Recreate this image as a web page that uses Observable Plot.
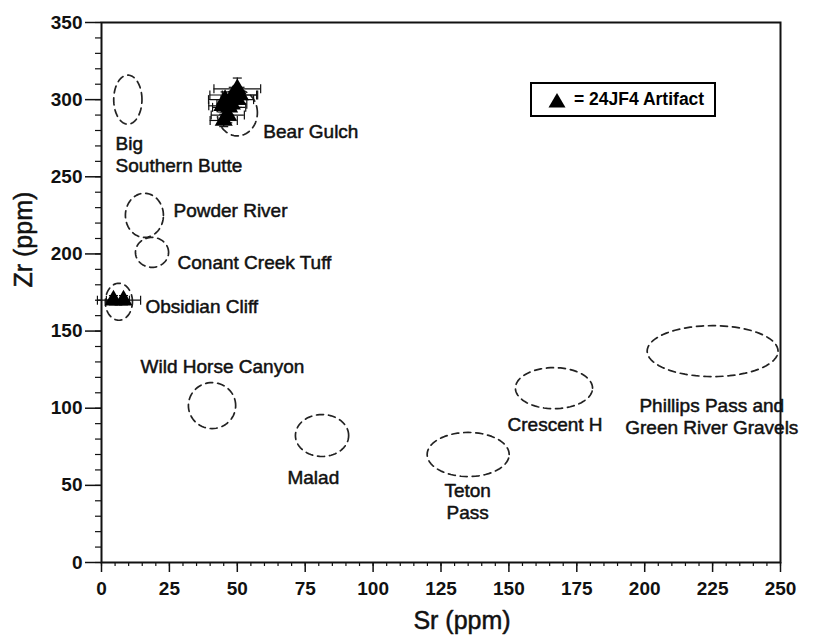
<!DOCTYPE html>
<html><head><meta charset="utf-8">
<script src="https://cdn.jsdelivr.net/npm/d3@7"></script>
<script src="https://cdn.jsdelivr.net/npm/@observablehq/plot@0.6"></script>
<style>
body{margin:0;background:#fff;font-family:"Liberation Sans",Arial,sans-serif;}
#wrap{position:relative;width:830px;height:642px;overflow:hidden;}
#legend{position:absolute;left:530px;top:82px;width:182px;height:31px;border:2.5px solid #000;background:#fff;display:flex;align-items:center;font-size:17.5px;font-weight:bold;color:#000;}
#legend svg{margin-left:16px;margin-right:8px;}
</style></head><body><div id="wrap"><div id="legend"><svg width="18" height="16"><polygon points="9,1 17.5,15.5 0.5,15.5" fill="#000"/></svg><span>= 24JF4 Artifact</span></div></div>
<script>
// Source ellipses (Sr, Zr in ppm)
const sources   = ["Big Southern Butte","Bear Gulch","Powder River","Conant Creek Tuff","Obsidian Cliff","Wild Horse Canyon","Malad","Teton Pass","Crescent H","Phillips Pass"];
const srCenter  = [9.7, 50, 15.8, 18.6, 6.4, 40.7, 81.2, 135, 166.6, 225];
const zrCenter  = [300, 291.5, 225, 201, 169, 101.7, 82.3, 70, 113, 137];
const srRadius  = [5.2, 7.4, 7, 6.1, 5, 8.7, 9.8, 15.1, 14.2, 24.1];
const zrRadius  = [15.9, 15, 14.3, 9.7, 12, 14.9, 13.6, 14.3, 13.3, 16.5];

// Artifact 24JF4 measurements
const artSr    = [50, 48.5, 45.5, 47, 46.5, 45, 50, 44.5, 51, 48, 4.4, 8.1];
const artZr    = [307, 303, 300, 295, 290, 286.5, 300, 296, 303, 297, 170, 170];
const artSrErr = [8.6, 8.6, 6.1, 6.1, 6.1, 5, 6, 5, 6.5, 5.5, 5.9, 6.3];
const artZrErr = [7, 5, 5, 5, 5, 4, 5, 4, 5, 4, 3, 3];

// Labels
const labelText  = ["Big\nSouthern Butte","Bear Gulch","Powder River","Conant Creek Tuff","Obsidian Cliff","Wild Horse Canyon","Malad","Teton\nPass","Crescent H","Phillips Pass and\nGreen River Gravels"];
const labelSr    = [5.2, 59.6, 26.5, 28, 16.2, 14.4, 78, 134.8, 149.5, 224.7];
const labelZr    = [264.7, 280, 228.8, 194.6, 166.6, 127.7, 55.7, 40, 90, 95];
const labelAlign = ["start","start","start","start","start","start","middle","middle","start","middle"];

// Axis ticks
const xMajor = [0,25,50,75,100,125,150,175,200,225,250];
const yMajor = [0,50,100,150,200,250,300,350];
const xMinor = d3.range(0, 251, 5);
const yMinor = d3.range(0, 351, 10);

const ellipsePts = [];
sources.forEach((s, i) => {
  const n = 72;
  for (let k = 0; k <= n; k++) {
    const t = 2 * Math.PI * k / n;
    ellipsePts.push({name: s, sr: srCenter[i] + srRadius[i] * Math.cos(t), zr: zrCenter[i] + zrRadius[i] * Math.sin(t)});
  }
});
const arts = artSr.map((v, i) => ({sr: v, zr: artZr[i], se: artSrErr[i], ze: artZrErr[i]}));
const labels = labelText.map((t, i) => ({t, sr: labelSr[i], zr: labelZr[i], a: labelAlign[i]}));

const vCap = {draw(ctx){ctx.moveTo(0,-4.5);ctx.lineTo(0,4.5);}};
const hCap = {draw(ctx){ctx.moveTo(-4.5,0);ctx.lineTo(4.5,0);}};
const ink = "#111";
const fontFamily = "Liberation Sans, Arial, sans-serif";
const txt = {fill: ink, stroke: ink, strokeWidth: 0.5};

const chart = Plot.plot({
  width: 830, height: 642,
  marginLeft: 101, marginRight: 50, marginTop: 22, marginBottom: 80,
  style: {fontFamily, color: ink, background: "#fff"},
  x: {domain: [0, 250]},
  y: {domain: [0, 350]},
  marks: [
    Plot.axisX(xMinor, {tickSize: 4, tickFormat: () => "", label: null, strokeWidth: 1.2}),
    Plot.axisY(yMinor, {tickSize: 6, tickFormat: () => "", label: null, strokeWidth: 1.2}),
    Plot.axisX(xMajor, {tickSize: 10, tickPadding: 9, fontSize: 19, fontWeight: "bold", label: null, strokeWidth: 1.5}),
    Plot.axisY(yMajor, {tickSize: 16, tickPadding: 3, fontSize: 19, fontWeight: "bold", label: null, strokeWidth: 1.5}),
    Plot.frame({stroke: ink, strokeWidth: 2}),
    Plot.line(ellipsePts, {x: "sr", y: "zr", z: "name", stroke: "#222", strokeWidth: 1.7, strokeDasharray: "7,5"}),
    Plot.ruleY(arts, {y: "zr", x1: d => d.sr - d.se, x2: d => d.sr + d.se, stroke: ink, strokeWidth: 1.2}),
    Plot.ruleX(arts, {x: "sr", y1: d => d.zr - d.ze, y2: d => d.zr + d.ze, stroke: ink, strokeWidth: 1.2}),
    Plot.dot(arts, {x: d => d.sr - d.se, y: "zr", symbol: vCap, stroke: ink, fill: "none", strokeWidth: 1.2}),
    Plot.dot(arts, {x: d => d.sr + d.se, y: "zr", symbol: vCap, stroke: ink, fill: "none", strokeWidth: 1.2}),
    Plot.dot(arts, {x: "sr", y: d => d.zr + d.ze, symbol: hCap, stroke: ink, fill: "none", strokeWidth: 1.2}),
    Plot.dot(arts, {x: "sr", y: d => d.zr - d.ze, symbol: hCap, stroke: ink, fill: "none", strokeWidth: 1.2}),
    Plot.dot(arts, {x: "sr", y: "zr", symbol: "triangle", r: 6.7, fill: "#000", stroke: "none"}),
    Plot.text(labels.filter(d => d.a === "start"), {x: "sr", y: "zr", text: "t", textAnchor: "start", lineAnchor: "middle", lineHeight: 1.18, fontSize: 19, ...txt}),
    Plot.text(labels.filter(d => d.a === "middle"), {x: "sr", y: "zr", text: "t", textAnchor: "middle", lineAnchor: "middle", lineHeight: 1.18, fontSize: 19, ...txt}),
    Plot.text(["Sr (ppm)"], {frameAnchor: "bottom", dx: 21, dy: 66, text: d => d, fontSize: 25, ...txt}),
    Plot.text(["Zr (ppm)"], {frameAnchor: "left", dx: -78, dy: -5, rotate: -90, text: d => d, fontSize: 25, ...txt})
  ]
});
document.getElementById("wrap").prepend(chart);
</script>
</body></html>
